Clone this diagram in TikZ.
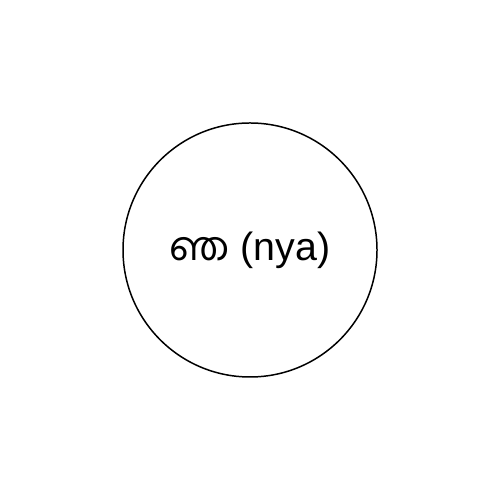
\documentclass[tikz,border=0pt]{standalone}
\usepackage{fontspec}
\setmainfont{Liberation Sans}
\newfontfamily\malfont[Script=Malayalam]{Hind Kochi}
\usetikzlibrary{positioning}

\begin{document}
\begin{tikzpicture}[
            letter/.style = {circle, draw, line width=0.85pt, minimum size=5.08cm, inner sep=0pt}, % circle round the letter
            font = \fontsize{22.4}{26}\selectfont % label size
        ]

	\useasboundingbox (0,0) rectangle (10,10);
	\node[letter] (nya) at (5,5) {{\malfont ഞ} (nya)};

\end{tikzpicture}
\end{document}
